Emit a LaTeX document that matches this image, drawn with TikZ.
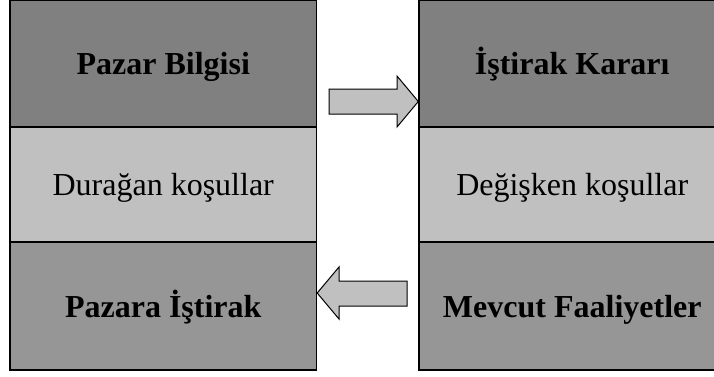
\documentclass[tikz,border=0pt]{standalone}
\usepackage{fontspec}
\setmainfont{Liberation Serif}
\definecolor{darkcell}{HTML}{808080}
\definecolor{midcell}{HTML}{C0C0C0}
\definecolor{lowcell}{HTML}{969696}
\definecolor{arrowfill}{HTML}{C0C0C0}
\begin{document}
\begin{tikzpicture}[x=1pt,y=-1pt,
  cell/.style={draw=black,line width=1.4pt,rectangle,inner sep=0pt,
    minimum width=306.5pt,text height=22pt,text depth=0pt,
    font=\fontsize{32}{38}\selectfont},
  headcell/.style={cell,fill=darkcell,minimum height=127pt,font=\fontsize{32}{38}\selectfont\bfseries},
  condcell/.style={cell,fill=midcell,minimum height=115pt},
  footcell/.style={cell,fill=lowcell,minimum height=128pt,font=\fontsize{32}{38}\selectfont\bfseries},
  blockarrow/.style={draw=black,line width=1pt,fill=arrowfill,line join=miter}]
\useasboundingbox (0,0) rectangle (714,376);
\clip (0,0) rectangle (714,376);
% left column
\node[headcell] (lt) at (163.25,63.5) {Pazar Bilgisi};
\node[condcell] (lm) at (163.25,184.5) {Durağan koşullar};
\node[footcell] (lb) at (163.25,306) {Pazara İştirak};
% right column
\node[headcell] (rt) at (572.25,63.5) {İştirak Kararı};
\node[condcell] (rm) at (572.25,184.5) {Değişken koşullar};
\node[footcell] (rb) at (572.25,306) {Mevcut Faaliyetler};
% block arrows between the columns
\coordinate (a1tip) at (rt.west |- 0,101.5);
\draw[blockarrow] (329,89) -- (397,89) -- (397,76) -- (a1tip) -- (397,127) -- (397,114) -- (329,114) -- cycle;
\coordinate (a2tip) at (lb.east |- 0,293);
\draw[blockarrow] (407,281) -- (339,281) -- (339,267) -- (a2tip) -- (339,319) -- (339,306) -- (407,306) -- cycle;
\end{tikzpicture}
\end{document}
